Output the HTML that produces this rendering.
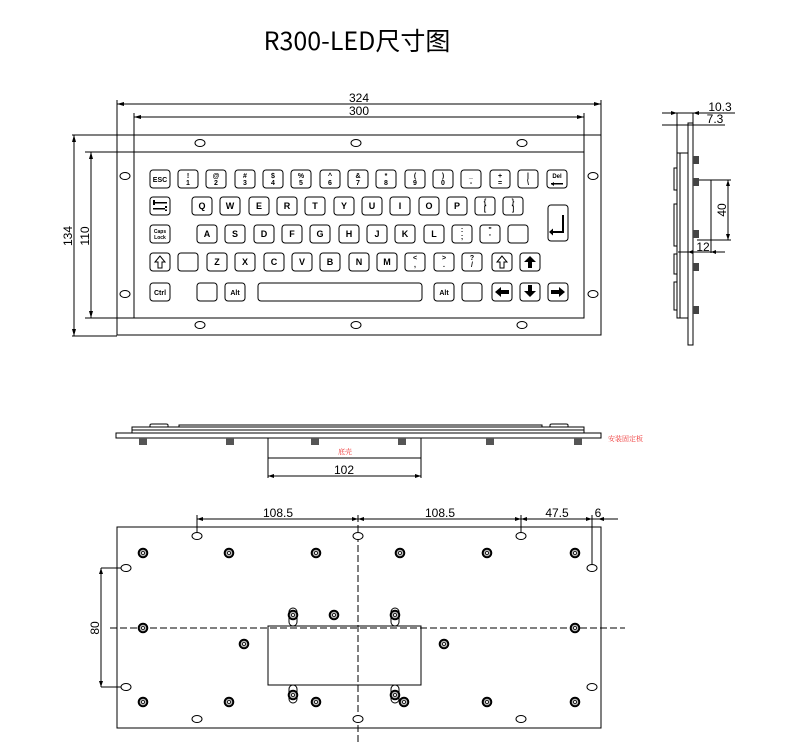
<!DOCTYPE html>
<html><head><meta charset="utf-8"><style>
html,body{margin:0;padding:0;background:#fff}
svg{display:block}
.k{fill:#fff;stroke:#000;stroke-width:1}
.t{font-family:"Liberation Sans",sans-serif;font-weight:bold;text-anchor:middle;font-size:9px}
.s{font-family:"Liberation Sans",sans-serif;font-weight:bold;text-anchor:middle;font-size:7px}
.d{font-family:"Liberation Sans",sans-serif;font-size:12px;text-anchor:middle}
.l{stroke:#000;stroke-width:1;fill:none}
.h{fill:#fff;stroke:#000;stroke-width:1}
</style></head><body>
<svg width="792" height="752" viewBox="0 0 792 752" xmlns="http://www.w3.org/2000/svg">
<text x="357" y="50" style="font-family:'Noto Sans CJK SC','Liberation Sans',sans-serif;font-size:25px;text-anchor:middle">R300-LED尺寸图</text>

<!-- TOP VIEW -->
<g class="l">
<rect x="117" y="135" width="484" height="200"/>
<rect x="134" y="152" width="450" height="166"/>
<line x1="117" y1="100" x2="117" y2="135"/><line x1="601" y1="100" x2="601" y2="135"/>
<line x1="134" y1="113" x2="134" y2="152"/><line x1="584" y1="113" x2="584" y2="152"/>
<line x1="117" y1="104" x2="601" y2="104"/><line x1="134" y1="117" x2="584" y2="117"/>
<line x1="72" y1="135" x2="117" y2="135"/><line x1="72" y1="336" x2="117" y2="336"/>
<line x1="85" y1="152" x2="134" y2="152"/><line x1="85" y1="318" x2="134" y2="318"/>
<line x1="74" y1="135" x2="74" y2="336"/><line x1="91" y1="152" x2="91" y2="318"/>
</g>
<g fill="#000">
<path d="M117 104l7-2v4z M601 104l-7-2v4z M134 117l7-2v4z M584 117l-7-2v4z"/>
<path d="M74 135l-2 7h4z M74 336l-2-7h4z M91 152l-2 7h4z M91 318l-2-7h4z"/>
</g>
<text class="d" x="359" y="102">324</text>
<text class="d" x="359" y="115">300</text>
<text class="d" transform="translate(72,236) rotate(-90)">134</text>
<text class="d" transform="translate(89,236) rotate(-90)">110</text>
<g class="h">
<ellipse cx="200" cy="143" rx="5" ry="3.5"/><ellipse cx="356" cy="143" rx="5" ry="3.5"/><ellipse cx="522" cy="143" rx="5" ry="3.5"/>
<ellipse cx="200" cy="325" rx="5" ry="3.5"/><ellipse cx="356" cy="325" rx="5" ry="3.5"/><ellipse cx="522" cy="325" rx="5" ry="3.5"/>
<ellipse cx="125" cy="176" rx="5" ry="3.5"/><ellipse cx="125" cy="294" rx="5" ry="3.5"/>
<ellipse cx="593" cy="176" rx="5" ry="3.5"/><ellipse cx="593" cy="294" rx="5" ry="3.5"/>
</g>

<!-- keys -->
<g class="k">
<rect x="150" y="170" width="20" height="18" rx="3"/>
<rect x="178" y="170" width="20" height="18" rx="3"/><rect x="206" y="170" width="20" height="18" rx="3"/><rect x="235" y="170" width="20" height="18" rx="3"/><rect x="263" y="170" width="20" height="18" rx="3"/><rect x="291" y="170" width="20" height="18" rx="3"/><rect x="320" y="170" width="20" height="18" rx="3"/><rect x="348" y="170" width="20" height="18" rx="3"/><rect x="376" y="170" width="20" height="18" rx="3"/><rect x="405" y="170" width="20" height="18" rx="3"/><rect x="433" y="170" width="20" height="18" rx="3"/><rect x="461" y="170" width="20" height="18" rx="3"/><rect x="490" y="170" width="20" height="18" rx="3"/><rect x="518" y="170" width="20" height="18" rx="3"/>
<rect x="547" y="170" width="20" height="18" rx="3"/>
<rect x="150" y="197" width="20" height="18" rx="3"/>
<rect x="192" y="197" width="20" height="18" rx="3"/><rect x="220" y="197" width="20" height="18" rx="3"/><rect x="249" y="197" width="20" height="18" rx="3"/><rect x="277" y="197" width="20" height="18" rx="3"/><rect x="305" y="197" width="20" height="18" rx="3"/><rect x="334" y="197" width="20" height="18" rx="3"/><rect x="362" y="197" width="20" height="18" rx="3"/><rect x="390" y="197" width="20" height="18" rx="3"/><rect x="419" y="197" width="20" height="18" rx="3"/><rect x="447" y="197" width="20" height="18" rx="3"/><rect x="475" y="197" width="20" height="18" rx="3"/><rect x="503" y="197" width="20" height="18" rx="3"/>
<rect x="548" y="205" width="20" height="36" rx="3"/>
<rect x="150" y="225" width="20" height="18" rx="3"/>
<rect x="197" y="225" width="20" height="18" rx="3"/><rect x="225" y="225" width="20" height="18" rx="3"/><rect x="254" y="225" width="20" height="18" rx="3"/><rect x="282" y="225" width="20" height="18" rx="3"/><rect x="310" y="225" width="20" height="18" rx="3"/><rect x="339" y="225" width="20" height="18" rx="3"/><rect x="367" y="225" width="20" height="18" rx="3"/><rect x="395" y="225" width="20" height="18" rx="3"/><rect x="424" y="225" width="20" height="18" rx="3"/><rect x="452" y="225" width="20" height="18" rx="3"/><rect x="480" y="225" width="20" height="18" rx="3"/><rect x="508" y="225" width="20" height="18" rx="3"/>
<rect x="150" y="253" width="20" height="18" rx="3"/><rect x="178" y="253" width="20" height="18" rx="3"/>
<rect x="207" y="253" width="20" height="18" rx="3"/><rect x="235" y="253" width="20" height="18" rx="3"/><rect x="264" y="253" width="20" height="18" rx="3"/><rect x="292" y="253" width="20" height="18" rx="3"/><rect x="320" y="253" width="20" height="18" rx="3"/><rect x="349" y="253" width="20" height="18" rx="3"/><rect x="377" y="253" width="20" height="18" rx="3"/><rect x="405" y="253" width="20" height="18" rx="3"/><rect x="434" y="253" width="20" height="18" rx="3"/><rect x="462" y="253" width="20" height="18" rx="3"/>
<rect x="492" y="253" width="20" height="18" rx="3"/><rect x="520" y="253" width="20" height="18" rx="3"/>
<rect x="150" y="283" width="20" height="18" rx="3"/><rect x="197" y="283" width="20" height="18" rx="3"/><rect x="225" y="283" width="20" height="18" rx="3"/>
<rect x="258" y="283" width="164" height="18" rx="3"/>
<rect x="434" y="283" width="20" height="18" rx="3"/><rect x="462" y="283" width="20" height="18" rx="3"/><rect x="492" y="283" width="20" height="18" rx="3"/><rect x="520" y="283" width="20" height="18" rx="3"/><rect x="548" y="283" width="20" height="18" rx="3"/>
</g>
<g class="s">
<text x="160" y="182">ESC</text>
<text x="188" y="178">!</text><text x="188" y="185">1</text>
<text x="216" y="178">@</text><text x="216" y="185">2</text>
<text x="245" y="178">#</text><text x="245" y="185">3</text>
<text x="273" y="178">$</text><text x="273" y="185">4</text>
<text x="301" y="178">%</text><text x="301" y="185">5</text>
<text x="330" y="178">^</text><text x="330" y="185">6</text>
<text x="358" y="178">&amp;</text><text x="358" y="185">7</text>
<text x="386" y="178">*</text><text x="386" y="185">8</text>
<text x="415" y="178">(</text><text x="415" y="185">9</text>
<text x="443" y="178">)</text><text x="443" y="185">0</text>
<text x="471" y="178">_</text><text x="471" y="185">-</text>
<text x="500" y="178">+</text><text x="500" y="185">=</text>
<text x="528" y="178">|</text><text x="528" y="185">\</text>
<text x="557" y="178" style="font-size:6px">Del</text>
<text x="160" y="233" style="font-size:5px">Caps</text><text x="160" y="239" style="font-size:5px">Lock</text>
<text x="160" y="295">Ctrl</text><text x="235" y="295">Alt</text><text x="444" y="295">Alt</text>
<text x="485" y="204">{</text><text x="485" y="211">[</text>
<text x="513" y="204">}</text><text x="513" y="211">]</text>
<text x="462" y="232">:</text><text x="462" y="239">;</text>
<text x="490" y="232">"</text><text x="490" y="239">'</text>
<text x="415" y="260">&lt;</text><text x="415" y="267">,</text>
<text x="444" y="260">&gt;</text><text x="444" y="267">.</text>
<text x="472" y="260">?</text><text x="472" y="267">/</text>
</g>
<g class="t">
<text x="202" y="209">Q</text><text x="230" y="209">W</text><text x="259" y="209">E</text><text x="287" y="209">R</text><text x="315" y="209">T</text><text x="344" y="209">Y</text><text x="372" y="209">U</text><text x="400" y="209">I</text><text x="429" y="209">O</text><text x="457" y="209">P</text>
<text x="207" y="237">A</text><text x="235" y="237">S</text><text x="264" y="237">D</text><text x="292" y="237">F</text><text x="320" y="237">G</text><text x="349" y="237">H</text><text x="377" y="237">J</text><text x="405" y="237">K</text><text x="434" y="237">L</text>
<text x="217" y="265">Z</text><text x="245" y="265">X</text><text x="274" y="265">C</text><text x="302" y="265">V</text><text x="330" y="265">B</text><text x="359" y="265">N</text><text x="387" y="265">M</text>
</g>
<g fill="#000">
<path d="M551 183h12v1.5h-12z M551 184l3-2v4z"/>
<path d="M153 202h14v1.5h-14z M153 200h2v5h-2z M153 208h14v1.5h-14z M167 206h-2v5h2z"/>
<path d="M562 215v16h-9v-2.5l-4 3.5 4 3.5v-2.5h11v-18z"/>
<path d="M530 256l-6 6h4v6h4v-6h4z"/>
<path d="M495 292l6-5v3h8v4h-8v3z"/>
<path d="M530 297l-6-6h4v-6h4v6h4z"/>
<path d="M565 292l-6-5v3h-8v4h8v3z"/>
</g>
<path class="l" d="M160 256l-5 6h3v6h4v-6h3z"/>
<path class="l" d="M502 256l-5 6h3v6h4v-6h3z"/>

<!-- SIDE VIEW -->
<g class="l">
<rect x="688" y="123" width="5" height="222"/>
<rect x="677" y="153" width="11" height="165"/>
<line x1="680" y1="153" x2="680" y2="318"/>
<path d="M677 168h-3v22h3 M677 204h-3v42h3 M677 254h-3v20h3 M677 282h-3v28h3"/>
<line x1="677" y1="113" x2="677" y2="153"/><line x1="693" y1="113" x2="693" y2="123"/>
<line x1="662" y1="113" x2="735" y2="113"/><line x1="662" y1="125" x2="725" y2="125"/>
<line x1="697" y1="180" x2="731" y2="180"/><line x1="697" y1="240" x2="731" y2="240"/>
<line x1="728" y1="180" x2="728" y2="240"/><line x1="711" y1="180" x2="711" y2="253"/>
<line x1="678" y1="252" x2="725" y2="252"/>
</g>
<g fill="#444">
<rect x="693" y="156" width="6" height="8"/><rect x="693" y="178" width="6" height="8"/><rect x="693" y="230" width="6" height="8"/><rect x="693" y="263" width="6" height="8"/><rect x="693" y="306" width="6" height="8"/>
</g>
<g fill="#000"><path d="M677 113l-6-2v4z M693 113l6-2v4z M728 180l-2 6h4z M728 240l-2-6h4z M688 252l5-2v4z M711 252l5-2v4z"/></g>
<text class="d" x="720" y="111">10.3</text>
<text class="d" x="715" y="123">7.3</text>
<text class="d" transform="translate(726,210) rotate(-90)">40</text>
<text class="d" x="703" y="251">12</text>

<!-- FRONT VIEW -->
<g class="l">
<rect x="116" y="433" width="485" height="5"/>
<rect x="132" y="427" width="452" height="6"/>
<line x1="132" y1="430" x2="584" y2="430"/>
<path d="M150 427v-2q0-1 2-1h14q2 0 2 1v2 M179 427v-2h363v2 M550 427v-2q0-1 2-1h14q2 0 2 1v2"/>
<rect x="268" y="438" width="153" height="20"/>
<line x1="268" y1="458" x2="268" y2="478"/><line x1="421" y1="458" x2="421" y2="478"/>
<line x1="268" y1="476" x2="421" y2="476"/>
</g>
<g fill="#000"><path d="M268 476l6-2v4z M421 476l-6-2v4z"/></g>
<g fill="#555">
<rect x="139" y="438" width="8" height="7"/><rect x="226" y="438" width="8" height="7"/><rect x="311" y="438" width="8" height="7"/><rect x="398" y="438" width="8" height="7"/><rect x="486" y="438" width="8" height="7"/><rect x="574" y="438" width="8" height="7"/>
</g>
<text x="345" y="454" style="font-family:'Noto Serif CJK SC',serif;font-size:7px;fill:#e33;text-anchor:middle">底壳</text>
<text x="608" y="441" style="font-family:'Noto Serif CJK SC',serif;font-size:7px;fill:#e33">安装固定板</text>
<text class="d" x="344" y="474">102</text>

<!-- BOTTOM VIEW -->
<g class="l">
<rect x="117" y="527" width="484" height="201"/>
<rect x="268" y="626" width="153" height="59"/>
<line x1="358" y1="515" x2="358" y2="745" stroke-dasharray="7,3"/>
<line x1="110" y1="628" x2="625" y2="628" stroke-dasharray="7,3"/>
<line x1="197" y1="515" x2="197" y2="533"/><line x1="521" y1="515" x2="521" y2="533"/><line x1="592" y1="515" x2="592" y2="565"/>
<line x1="197" y1="519" x2="618" y2="519"/>
<line x1="101" y1="568" x2="122" y2="568"/><line x1="101" y1="687" x2="122" y2="687"/>
<line x1="101" y1="568" x2="101" y2="687"/>
</g>
<g fill="#000"><path d="M197 519l6-2v4z M358 519l-6-2v4z M358 519l6-2v4z M521 519l-6-2v4z M521 519l6-2v4z M592 519l-6-2v4z M598 519l6-2v4z M101 568l-2 6h4z M101 687l-2-6h4z"/></g>
<text class="d" x="278" y="517">108.5</text>
<text class="d" x="440" y="517">108.5</text>
<text class="d" x="557" y="517">47.5</text>
<text class="d" x="598" y="517">6</text>
<text class="d" transform="translate(99,628) rotate(-90)">80</text>
<g class="h">
<ellipse cx="197" cy="536" rx="5" ry="3.5"/><ellipse cx="358" cy="536" rx="5" ry="3.5"/><ellipse cx="521" cy="536" rx="5" ry="3.5"/>
<ellipse cx="197" cy="719" rx="5" ry="3.5"/><ellipse cx="358" cy="719" rx="5" ry="3.5"/><ellipse cx="521" cy="719" rx="5" ry="3.5"/>
<ellipse cx="126" cy="568" rx="5" ry="3.5"/><ellipse cx="126" cy="687" rx="5" ry="3.5"/>
<ellipse cx="592" cy="568" rx="5" ry="3.5"/><ellipse cx="592" cy="687" rx="5" ry="3.5"/>
<rect x="289" y="608" width="8" height="18" rx="4"/><rect x="391" y="608" width="8" height="18" rx="4"/>
<rect x="289" y="685" width="8" height="18" rx="4"/><rect x="391" y="685" width="8" height="18" rx="4"/>
</g>
<g fill="#bbb" stroke="#000" stroke-width="2">
<circle cx="143" cy="553" r="4.3"/><circle cx="229" cy="553" r="4.3"/><circle cx="316" cy="553" r="4.3"/><circle cx="400" cy="553" r="4.3"/><circle cx="487" cy="553" r="4.3"/><circle cx="575" cy="553" r="4.3"/>
<circle cx="143" cy="628" r="4.3"/><circle cx="575" cy="628" r="4.3"/>
<circle cx="244" cy="644" r="4.3"/><circle cx="444" cy="644" r="4.3"/>
<circle cx="334" cy="615" r="4.3"/>
<circle cx="293" cy="615" r="4.3"/><circle cx="395" cy="615" r="4.3"/>
<circle cx="293" cy="695" r="4.3"/><circle cx="395" cy="695" r="4.3"/>
<circle cx="143" cy="702" r="4.3"/><circle cx="229" cy="702" r="4.3"/><circle cx="316" cy="702" r="4.3"/><circle cx="404" cy="702" r="4.3"/><circle cx="487" cy="702" r="4.3"/><circle cx="575" cy="702" r="4.3"/>
</g>
<g fill="#fff" stroke="#000" stroke-width="0.8">
<circle cx="143" cy="553" r="1.5"/><circle cx="229" cy="553" r="1.5"/><circle cx="316" cy="553" r="1.5"/><circle cx="400" cy="553" r="1.5"/><circle cx="487" cy="553" r="1.5"/><circle cx="575" cy="553" r="1.5"/>
<circle cx="143" cy="628" r="1.5"/><circle cx="575" cy="628" r="1.5"/><circle cx="244" cy="644" r="1.5"/><circle cx="444" cy="644" r="1.5"/><circle cx="334" cy="615" r="1.5"/>
<circle cx="293" cy="615" r="1.5"/><circle cx="395" cy="615" r="1.5"/><circle cx="293" cy="695" r="1.5"/><circle cx="395" cy="695" r="1.5"/>
<circle cx="143" cy="702" r="1.5"/><circle cx="229" cy="702" r="1.5"/><circle cx="316" cy="702" r="1.5"/><circle cx="404" cy="702" r="1.5"/><circle cx="487" cy="702" r="1.5"/><circle cx="575" cy="702" r="1.5"/>
</g>
</svg>
</body></html>
